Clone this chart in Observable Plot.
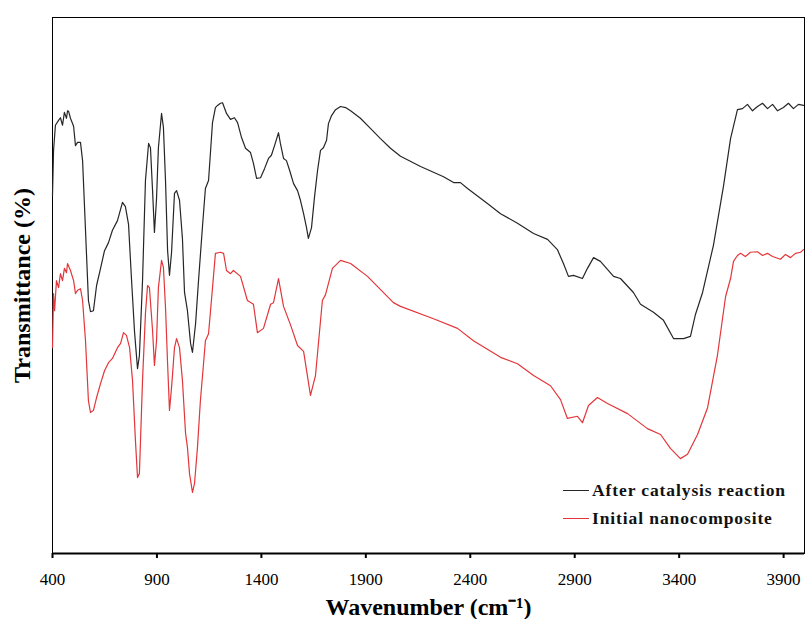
<!DOCTYPE html>
<html>
<head>
<meta charset="utf-8">
<script src="https://cdn.jsdelivr.net/npm/d3@7"></script>
<script src="https://cdn.jsdelivr.net/npm/@observablehq/plot@0.6"></script>
<style>
  html, body { margin: 0; padding: 0; background: #fff; }
  #wrap { position: relative; width: 806px; height: 619px; font-family: "Liberation Serif", "Times New Roman", serif; }
  #legend { position: absolute; left: 563px; top: 476px; font-weight: bold; font-size: 17.5px; line-height: 28px; color: #111; letter-spacing: 0.9px; }
  #legend .row { display: flex; align-items: center; white-space: nowrap; }
  #legend .sw { display: inline-block; width: 26px; height: 0; border-top: 1.3px solid; margin-right: 3px; }
</style>
</head>
<body>
<div id="wrap"></div>
<script>
// Wavenumbers (cm-1) and transmittance (arbitrary %)
const afterWavenumber = [400,405,414,429,438,448,457,467,472,477,486,501,510,520,534,544,558,572,582,596,611,630,649,668,687,711,735,749,764,778,793,807,816,831,845,860,869,879,888,898,907,922,931,941,951,960,970,984,994,1008,1022,1032,1046,1061,1070,1085,1099,1118,1132,1147,1166,1180,1190,1204,1214,1233,1252,1271,1286,1305,1324,1348,1362,1377,1396,1415,1434,1448,1463,1482,1491,1506,1520,1535,1554,1573,1587,1602,1616,1625,1640,1654,1669,1683,1697,1712,1721,1736,1755,1779,1803,1827,1874,1922,1970,2018,2066,2162,2272,2320,2353,2387,2482,2545,2626,2703,2770,2817,2846,2870,2894,2937,2961,2990,3023,3086,3119,3181,3215,3277,3325,3373,3421,3454,3478,3512,3564,3612,3646,3679,3703,3727,3751,3775,3799,3823,3847,3871,3899,3923,3947,3971,3995];
const afterT = [66.8,75.2,79.9,80.8,81.3,79.9,82.3,81.2,82.6,82.5,81.2,79.7,76.1,76.7,76.7,73.3,60.3,47.2,45.1,45.3,50.0,53.2,56.5,58.0,60.3,62.1,65.5,64.7,61.4,51.3,41.2,34.5,36.9,50.9,69.6,76.5,75.7,67.7,59.9,66.2,75.7,82.1,79.5,69.6,56.5,51.9,56.2,67.2,67.7,65.9,58.8,48.7,45.3,39.2,37.5,42.9,50.9,61.0,68.1,69.6,80.4,83.2,83.6,84.0,84.1,82.1,81.0,81.3,80.4,77.6,75.6,74.8,72.8,70.0,70.1,71.8,73.7,74.3,76.1,78.5,76.5,73.7,73.3,71.5,69.0,67.7,65.9,63.4,60.8,58.8,60.8,66.4,71.5,75.2,75.7,77.1,80.2,81.7,82.8,83.4,83.2,82.6,81.2,79.3,77.4,75.6,74.1,72.2,70.3,69.2,69.2,68.1,65.3,63.4,61.6,59.7,58.6,56.7,54.1,51.7,51.9,51.3,53.2,55.2,54.5,51.7,51.3,48.7,46.5,45.0,43.5,40.1,40.1,40.5,44.6,48.7,57.5,68.5,77.4,82.8,83.0,83.8,82.6,83.4,84.0,83.0,83.8,82.6,83.2,84.0,83.0,83.8,83.6];

const initialWavenumber = [400,405,410,419,429,438,448,457,467,472,486,501,510,520,534,544,558,572,582,596,611,630,649,668,687,711,726,740,754,769,783,797,807,816,831,845,855,864,879,888,898,907,922,931,941,951,960,970,984,994,1008,1022,1037,1046,1056,1070,1080,1094,1108,1123,1132,1147,1166,1180,1204,1219,1233,1252,1266,1300,1333,1362,1381,1410,1444,1458,1482,1506,1539,1573,1602,1635,1659,1692,1707,1740,1779,1827,1908,2032,2066,2224,2339,2415,2545,2626,2703,2784,2832,2865,2913,2937,2966,3009,3057,3153,3248,3311,3358,3406,3440,3488,3536,3583,3622,3646,3660,3679,3694,3717,3741,3775,3799,3823,3847,3885,3909,3933,3957,3981,3995];
const initialT = [38.4,48.5,45.3,50.9,49.6,52.2,50.9,53.2,52.4,54.1,52.8,50.9,48.5,49.1,49.4,47.2,39.7,28.5,26.3,26.7,29.1,31.7,34.1,35.6,36.4,38.4,39.2,41.2,40.7,38.4,32.3,21.1,14.2,14.9,32.3,44.8,50.0,49.6,41.6,35.1,39.7,49.6,54.7,53.4,45.9,35.4,26.7,31.0,38.4,40.1,38.4,32.3,22.4,19.8,14.9,11.4,13.1,19.8,28.5,35.4,39.7,41.0,49.6,56.0,56.2,56.0,52.8,52.2,52.8,51.7,47.2,46.5,41.2,42.0,46.5,46.8,51.3,46.1,42.7,38.8,37.7,29.5,33.2,47.2,48.3,53.2,54.7,54.1,51.7,46.8,46.1,43.8,42.0,39.7,36.6,35.4,33.2,31.3,28.7,25.2,25.6,24.4,27.6,29.1,28.0,26.1,23.3,22.2,19.6,17.7,18.5,22.2,27.2,36.9,47.9,51.3,54.5,55.6,56.0,55.4,56.2,56.3,55.6,56.0,55.4,54.9,55.8,55.2,56.0,56.2,56.7];

const xTicks = [400, 900, 1400, 1900, 2400, 2900, 3400, 3900];
const seriesNames = ["After catalysis reaction", "Initial nanocomposite"];
const seriesColors = ["#262626", "#e3363a"];

const after = afterWavenumber.map((w, i) => ({w, t: afterT[i]}));
const initial = initialWavenumber.map((w, i) => ({w, t: initialT[i]}));

const chart = Plot.plot({
  width: 806,
  height: 619,
  marginLeft: 52,
  marginRight: 2,
  marginTop: 17,
  marginBottom: 66,
  style: {fontFamily: "'Liberation Serif', 'Times New Roman', serif", fontSize: "17px", background: "#fff", color: "#000"},
  x: {domain: [400, 4000]},
  y: {domain: [0, 100]},
  marks: [
    Plot.frame({stroke: "#000", strokeWidth: 1}),
    Plot.line(initial, {x: "w", y: "t", stroke: seriesColors[1], strokeWidth: 1.2}),
    Plot.line(after, {x: "w", y: "t", stroke: seriesColors[0], strokeWidth: 1.2}),
    Plot.ruleY([0], {stroke: "#000", strokeWidth: 2.2}),
    Plot.axisX({ticks: xTicks, tickSize: 5, strokeWidth: 2, tickPadding: 14, label: null, fontSize: 17, tickFormat: d => String(d)}),
    Plot.axisY({ticks: [], label: null}),
    Plot.text(["Wavenumber (cm⁻¹)"], {frameAnchor: "bottom", dy: 54, lineAnchor: "middle", textAnchor: "middle", fontWeight: "bold", fontSize: 24, fill: "#000"}),
    Plot.text(["Transmittance (%)"], {frameAnchor: "left", dx: -30, textAnchor: "middle", lineAnchor: "middle", rotate: -90, fontWeight: "bold", fontSize: 24, fill: "#000"})
  ]
});

const wrap = document.getElementById("wrap");
wrap.appendChild(chart);
const legend = document.createElement("div");
legend.id = "legend";
seriesNames.forEach((name, i) => {
  const row = document.createElement("div");
  row.className = "row";
  const sw = document.createElement("span");
  sw.className = "sw";
  sw.style.borderTopColor = seriesColors[i];
  row.appendChild(sw);
  const label = document.createElement("span");
  label.textContent = name;
  row.appendChild(label);
  legend.appendChild(row);
});
wrap.appendChild(legend);
</script>
</body>
</html>
